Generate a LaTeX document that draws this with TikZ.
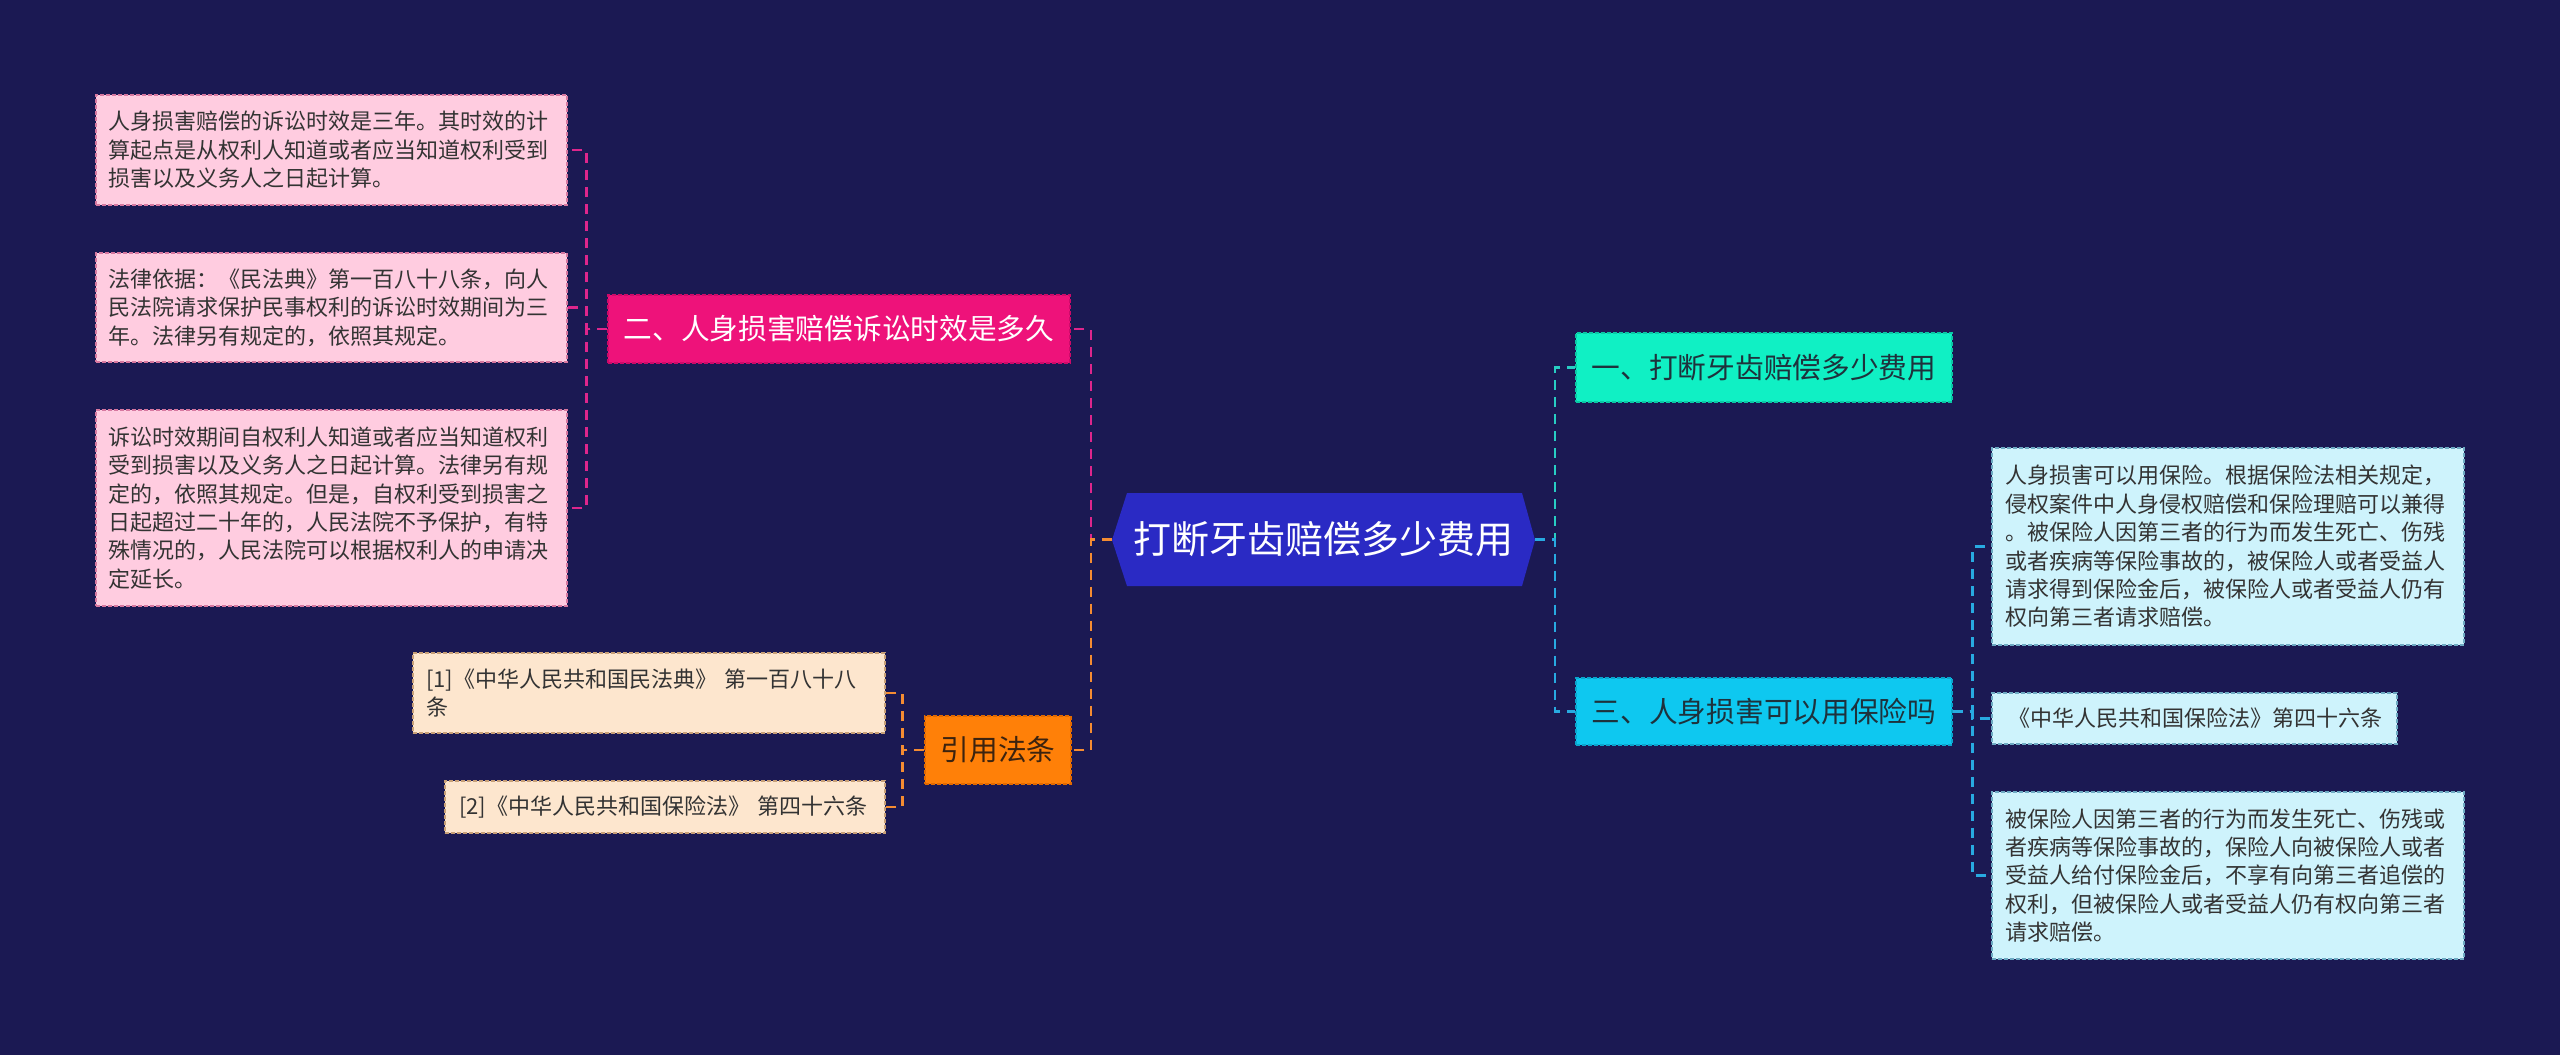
\documentclass[tikz,border=0pt]{standalone}
\usepackage{fontspec}
\newfontfamily\cjk{Noto Sans CJK SC}
\usetikzlibrary{calc}
\definecolor{bgc}{RGB}{27,25,83}
\definecolor{rootfill}{RGB}{42,42,196}
\definecolor{pinkhead}{RGB}{238,18,122}
\definecolor{pinkheadb}{RGB}{205,10,105}
\definecolor{orangehead}{RGB}{255,128,8}
\definecolor{orangeheadb}{RGB}{225,105,0}
\definecolor{tealhead}{RGB}{16,240,196}
\definecolor{tealheadb}{RGB}{10,200,165}
\definecolor{bluehead}{RGB}{14,200,240}
\definecolor{blueheadb}{RGB}{10,165,205}
\definecolor{pinkfill}{RGB}{255,204,224}
\definecolor{pinkb}{RGB}{215,120,160}
\definecolor{peachfill}{RGB}{253,230,206}
\definecolor{peachb}{RGB}{200,160,120}
\definecolor{cyanfill}{RGB}{206,243,252}
\definecolor{cyanb}{RGB}{110,170,195}
\definecolor{leaftext}{RGB}{51,51,51}
\definecolor{darkhead}{RGB}{30,50,60}
\definecolor{brownhead}{RGB}{60,35,15}
\definecolor{pinkline}{RGB}{222,38,140}
\definecolor{orangeline}{RGB}{245,140,50}
\definecolor{tealline}{RGB}{40,205,195}
\definecolor{blueline}{RGB}{40,170,225}
\begin{document}
\begin{tikzpicture}[x=1pt,y=-1pt,
  conn/.style={line width=2.5pt, dash pattern=on 10pt off 7pt},
  headbox/.style={font=\cjk\fontsize{28.7}{34}\selectfont, inner sep=0pt, line width=1.2pt, dash pattern=on 4pt off 2pt, anchor=center},
  leafbox/.style={font=\cjk\fontsize{22}{28.4}\selectfont, text=leaftext, align=left, inner ysep=0pt, line width=1.2pt, dash pattern=on 4pt off 2pt, anchor=center},
  pinkleaf/.style={leafbox, fill=pinkfill, draw=pinkb},
  peachleaf/.style={leafbox, fill=peachfill, draw=peachb},
  cyanleaf/.style={leafbox, fill=cyanfill, draw=cyanb}
]
\fill[bgc] (0,0) rectangle (2560,1055);
\useasboundingbox (0,0) rectangle (2560,1055);

% root hexagon
\fill[rootfill] (1112,540) -- (1127,493) -- (1522,493) -- (1535,540) -- (1522,586) -- (1127,586) -- cycle;
\node[font=\cjk\fontsize{38}{44}\selectfont, text=white, inner sep=0pt, minimum width=423pt, minimum height=93pt] (root) at (1323.5,539.5) {打断牙齿赔偿多少费用};

% headings
\node[headbox, fill=pinkhead, draw=pinkheadb, text=white, minimum width=462pt, minimum height=68pt] (n2) at (839,329) {二、人身损害赔偿诉讼时效是多久};
\node[headbox, fill=orangehead, draw=orangeheadb, text=brownhead, minimum width=146pt, minimum height=68pt] (cite) at (998,750) {引用法条};
\node[headbox, fill=tealhead, draw=tealheadb, text=darkhead, minimum width=376pt, minimum height=69pt] (n1) at (1764,367.5) {一、打断牙齿赔偿多少费用};
\node[headbox, fill=bluehead, draw=blueheadb, text=darkhead, minimum width=376pt, minimum height=67pt] (n3) at (1764,711.5) {三、人身损害可以用保险吗};

% left pink leaves
\node[pinkleaf, inner xsep=12pt, text width=447pt, minimum height=110pt] (p1) at (331.5,150) {人身损害赔偿的诉讼时效是三年。其时效的计\\算起点是从权利人知道或者应当知道权利受到\\损害以及义务人之日起计算。};
\node[pinkleaf, inner xsep=12pt, text width=447pt, minimum height=109pt] (p2) at (331.5,307.5) {法律依据：《民法典》第一百八十八条，向人\\民法院请求保护民事权利的诉讼时效期间为三\\年。法律另有规定的，依照其规定。};
\node[pinkleaf, inner xsep=12pt, text width=447pt, minimum height=196pt] (p3) at (331.5,508) {诉讼时效期间自权利人知道或者应当知道权利\\受到损害以及义务人之日起计算。法律另有规\\定的，依照其规定。但是，自权利受到损害之\\日起超过二十年的，人民法院不予保护，有特\\殊情况的，人民法院可以根据权利人的申请决\\定延长。};

% citation leaves
\node[peachleaf, inner xsep=13pt, text width=446pt, minimum height=80pt] (c1) at (649,693) {[1]《中华人民共和国民法典》 第一百八十八\\条};
\node[peachleaf, inner xsep=14pt, text width=412pt, minimum height=52pt] (c2) at (665,807) {[2]《中华人民共和国保险法》 第四十六条};

% right cyan leaves
\node[cyanleaf, inner xsep=13pt, text width=446pt, minimum height=197pt] (q1) at (2228,546.5) {人身损害可以用保险。根据保险法相关规定，\\侵权案件中人身侵权赔偿和保险理赔可以兼得\\。被保险人因第三者的行为而发生死亡、伤残\\或者疾病等保险事故的，被保险人或者受益人\\请求得到保险金后，被保险人或者受益人仍有\\权向第三者请求赔偿。};
\node[cyanleaf, inner xsep=16pt, text width=373pt, minimum height=51pt] (q2) at (2194.5,718.5) {《中华人民共和国保险法》第四十六条};
\node[cyanleaf, inner xsep=13pt, text width=446pt, minimum height=167pt] (q3) at (2228,875.5) {被保险人因第三者的行为而发生死亡、伤残或\\者疾病等保险事故的，保险人向被保险人或者\\受益人给付保险金后，不享有向第三者追偿的\\权利，但被保险人或者受益人仍有权向第三者\\请求赔偿。};

% connectors from root
\draw[conn, pinkline] (root.west) -- ++(-21,0) |- (n2.east);
\draw[conn, orangeline] (root.west) -- ++(-21,0) |- (cite.east);
\draw[conn, tealline] (root.east) -- ++(20,0) |- (n1.west);
\draw[conn, blueline] (root.east) -- ++(20,0) |- (n3.west);

% n2 children
\draw[conn, pinkline] (n2.west) -- ++(-21,0) |- (p1.east);
\draw[conn, pinkline] (n2.west) -- ++(-21,0) |- (p2.east);
\draw[conn, pinkline] (n2.west) -- ++(-21,0) |- (p3.east);

% cite children
\draw[conn, orangeline] (cite.west) -- ++(-22,0) |- (c1.east);
\draw[conn, orangeline] (cite.west) -- ++(-22,0) |- (c2.east);

% n3 children
\draw[conn, blueline] (n3.east) -- ++(20,0) |- (q1.west);
\draw[conn, blueline] (n3.east) -- ++(20,0) |- (q2.west);
\draw[conn, blueline] (n3.east) -- ++(20,0) |- (q3.west);
\end{tikzpicture}
\end{document}
